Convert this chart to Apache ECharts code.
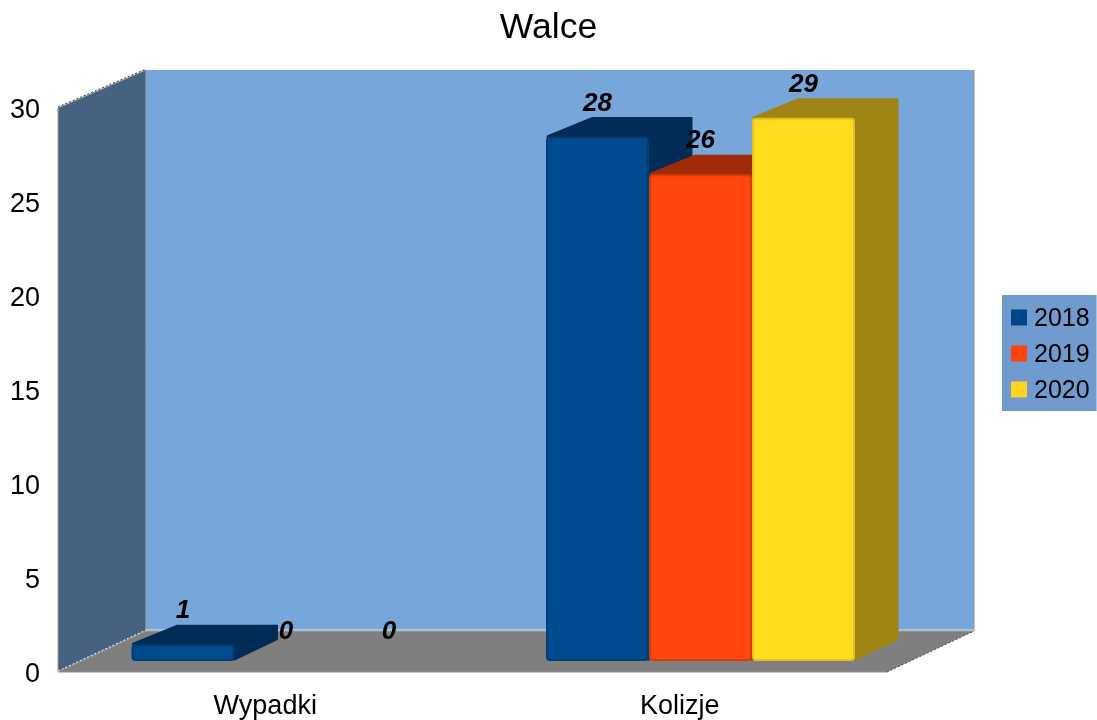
<!DOCTYPE html>
<html>
<head>
<meta charset="utf-8">
<title>Walce</title>
<style>
html,body{margin:0;padding:0;background:#fff}
#chart{width:1097px;height:720px}
</style>
<script src="https://cdn.jsdelivr.net/npm/echarts@6/dist/echarts.min.js"></script>
</head>
<body>
<div id="chart"></div>
<script>
const categories = ['Wypadki', 'Kolizje']
const years = ['2018', '2019', '2020']
const values2018 = [1, 28]
const values2019 = [0, 26]
const values2020 = [0, 29]
const yTicks = { min: 0, max: 30, interval: 5 }

const legendColors = ['#004586', '#ff420e', '#ffd320']
const frontColors = ['#004a8e', '#ff470f', '#ffdc1e']
const edgeColors = ['#003d75', '#d83c0c', '#e6c01e']
const darkColors = ['#002c56', '#a02b08', '#a08414']

const FONT = '"Liberation Sans", Arial, sans-serif'

const chart = echarts.init(document.getElementById('chart'))

// back wall, side wall and floor of the fake 3d box
function renderBox(params, api){
    const r = params.coordSys
    const x0 = r.x, x1 = r.x + r.width, y0 = r.y, y1 = r.y + r.height
    const dx = 88
    const poly = (points, fill) => ({
        type: 'polygon', silent: true,
        shape: { points: points },
        style: { fill: fill, stroke: null }
    })
    const line = (a, b, stroke, dash) => ({
        type: 'line', silent: true,
        shape: { x1: a[0], y1: a[1], x2: b[0], y2: b[1] },
        style: { stroke: stroke, lineWidth: 1, lineDash: dash || null }
    })
    const tl = [x0 + dx, y0 - 38], tr = [x1 + dx - 1, y0 - 38]
    const bl = [x0 + dx, y1 - 41], br = [x1 + dx - 1, y1 - 41]
    return {
        type: 'group',
        children: [
            poly([tl, tr, br, bl], '#77a6da'),
            poly([[x0, y0], tl, bl, [x0, y1]], '#476280'),
            poly([bl, br, [x1, y1], [x0, y1]], '#7f7f7f'),
            line(tl, bl, '#9aa3ad'),
            line(tr, br, '#8d939b'),
            line([bl[0], bl[1] - 1], [br[0], br[1] - 1], '#e6e9ee'),
            line(bl, br, '#a8a8a8'),
            line([x0, y0], [x0, y1], '#9a9fa6'),
            line([x0, y1], [x1, y1], '#8f8f8f'),
            line([x0, y0], tl, '#9a9a9a'),
            line([x0, y0 - 1], [tl[0], tl[1] - 1], '#333', [2, 2]),
            line([x0, y1], bl, '#999'),
            line([x0, y1 - 1], [bl[0], bl[1] - 1], '#fff', [2, 2]),
            line([x1, y1], br, '#444', [2, 2])
        ]
    }
}

// one column, front face + top + side, plus its value label
function renderBar(seriesIndex, params, api){
    const cat = api.value(0)
    const val = api.value(1)
    const pt = api.coord([cat, val])
    const zero = api.coord([cat, 0])
    const band = api.size([1, 0])[0]
    const w = band * 0.2485
    const left = pt[0] + 20.75 + (seriesIndex - 1.5) * w
    const bottom = zero[1] - 11
    const top = Math.min(pt[1] - 9, bottom)
    const dx = 44, dy = -20
    const label = {
        type: 'text', silent: true, z2: 50,
        style: {
            text: String(val),
            x: left + w / 2,
            y: top - (val ? 33 : 29),
            align: 'center',
            verticalAlign: 'middle',
            font: 'italic bold 26px ' + FONT,
            fill: '#000'
        }
    }
    if(val === 0){
        return { type: 'group', children: [label] }
    }
    const dark = darkColors[seriesIndex]
    const solid = points => ({
        type: 'polygon', silent: true,
        shape: { points: points },
        style: { fill: dark, stroke: dark, lineWidth: 3, lineJoin: 'round' }
    })
    return {
        type: 'group',
        children: [
            solid([[left + w, top + 2], [left + w + dx - 2, top + dy + 2], [left + w + dx - 2, bottom + dy - 2], [left + w, bottom - 2]]),
            solid([[left + 2, top], [left + dx + 2, top + dy + 2], [left + w + dx - 2, top + dy + 2], [left + w, top]]),
            {
                type: 'rect', silent: true,
                shape: { x: left + 1, y: top + 1, width: w - 2, height: bottom - top - 2, r: 3 },
                style: { fill: frontColors[seriesIndex], stroke: edgeColors[seriesIndex], lineWidth: 2 }
            },
            label
        ]
    }
}

const allValues = [values2018, values2019, values2020]

const option = {
    animation: false,
    textStyle: { fontFamily: FONT },
    title: {
        text: 'Walce',
        left: 'center',
        top: 5,
        textStyle: { fontSize: 35.5, fontWeight: 'normal', color: '#000', fontFamily: FONT }
    },
    legend: {
        data: years,
        orient: 'vertical',
        left: 1002,
        top: 295,
        padding: [12, 7, 7, 9],
        itemWidth: 16,
        itemHeight: 16,
        itemGap: 11,
        icon: 'rect',
        selectedMode: false,
        backgroundColor: '#6f9bcf',
        formatter: '{y|{name}}',
        textStyle: {
            rich: { y: { fontSize: 25, color: '#000', fontFamily: FONT, padding: [4, 0, 0, 2] } }
        }
    },
    grid: { left: 58, right: 210, top: 108, bottom: 48 },
    xAxis: {
        type: 'category',
        data: categories,
        axisLine: { show: false },
        axisTick: { show: false },
        axisLabel: { fontSize: 27, color: '#000', margin: 21, fontFamily: FONT }
    },
    yAxis: {
        type: 'value',
        min: yTicks.min,
        max: yTicks.max,
        interval: yTicks.interval,
        axisLine: { show: false },
        axisTick: { show: false },
        splitLine: { show: false },
        axisLabel: { fontSize: 27, color: '#000', margin: 18, verticalAlign: 'top', lineHeight: 6, fontFamily: FONT }
    },
    series: [
        {
            name: 'box',
            type: 'custom',
            silent: true,
            clip: false,
            z: 1,
            renderItem: renderBox,
            data: [[0, 0]]
        }
    ].concat(years.map((year, i) => ({
        name: year,
        type: 'custom',
        clip: false,
        z: 2 + i,
        itemStyle: { color: legendColors[i] },
        renderItem: (params, api) => renderBar(i, params, api),
        encode: { x: 0, y: 1 },
        data: allValues[i].map((v, c) => [c, v])
    })))
}

chart.setOption(option)
</script>
</body>
</html>
